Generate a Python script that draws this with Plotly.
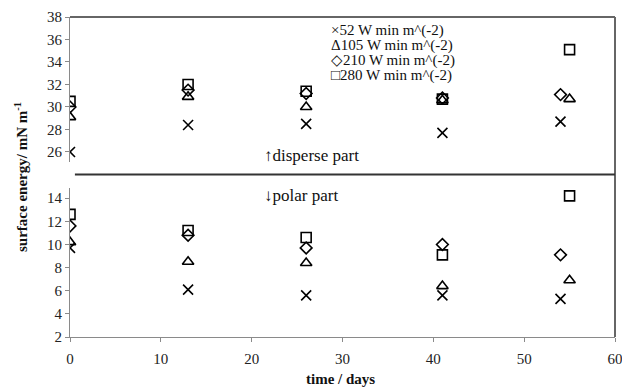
import plotly.graph_objects as go

series_names = ["52 W min m^(-2)", "105 W min m^(-2)", "210 W min m^(-2)", "280 W min m^(-2)"]
legend_glyphs = ["×", "Δ", "◇", "□"]
symbols = ["x-thin-open", "triangle-up-open", "diamond-open", "square-open"]

days = {
    "52 W min m^(-2)": [0, 13, 26, 41, 54],
    "105 W min m^(-2)": [0, 13, 26, 41, 55],
    "210 W min m^(-2)": [0, 13, 26, 41, 54],
    "280 W min m^(-2)": [0, 13, 26, 41, 55],
}
disperse = {
    "52 W min m^(-2)": [26.0, 28.4, 28.5, 27.7, 28.7],
    "105 W min m^(-2)": [29.1, 30.9, 30.0, 30.6, 30.7],
    "210 W min m^(-2)": [30.0, 31.5, 31.2, 30.8, 31.1],
    "280 W min m^(-2)": [30.5, 32.0, 31.4, 30.7, 35.1],
}
polar = {
    "52 W min m^(-2)": [9.7, 6.1, 5.6, 5.6, 5.3],
    "105 W min m^(-2)": [10.2, 8.5, 8.4, 6.4, 6.9],
    "210 W min m^(-2)": [11.6, 10.8, 9.7, 10.0, 9.1],
    "280 W min m^(-2)": [12.6, 11.2, 10.6, 9.1, 14.2],
}
bottom_ticks = [2, 4, 6, 8, 10, 12, 14]
top_ticks = [26, 28, 30, 32, 34, 36, 38]
x_ticks = [0, 10, 20, 30, 40, 50, 60]

FONT = "Liberation Serif, Times New Roman, serif"
sizes = {"x-thin-open": 10, "triangle-up-open": 10, "diamond-open": 9, "square-open": 10}

fig = go.Figure()
for name, sym in zip(series_names, symbols):
    mk = dict(symbol=sym, size=sizes[sym], color="black", line=dict(color="black", width=1.6))
    fig.add_trace(go.Scatter(x=days[name], y=polar[name], mode="markers", marker=mk,
                             name=name, showlegend=False, xaxis="x", yaxis="y"))
    fig.add_trace(go.Scatter(x=days[name], y=disperse[name], mode="markers", marker=mk,
                             name=name, showlegend=False, xaxis="x2", yaxis="y2"))

axis_common = dict(showgrid=False, zeroline=False, showline=True, linecolor="#8a8a8a",
                   linewidth=1.2, ticks="outside", ticklen=4, tickcolor="#8a8a8a",
                   automargin=False,
                   tickfont=dict(family=FONT, size=15, color="#222"))

fig.update_layout(
    width=622, height=388,
    margin=dict(l=70, r=7, t=17, b=51, autoexpand=False),
    paper_bgcolor="white", plot_bgcolor="white",
    xaxis=dict(range=[0, 60], tickvals=x_ticks, anchor="y", ticklabeloverflow="allow",
               ticklabelstandoff=4, **axis_common),
    xaxis2=dict(range=[0, 60], matches="x", anchor="y2", visible=False),
    yaxis=dict(range=[2, 14.89], domain=[0, 0.466], tickvals=bottom_ticks, anchor="x", **axis_common),
    yaxis2=dict(range=[25.14, 38], domain=[0.548, 1], tickvals=top_ticks, anchor="x2", **axis_common),
)

shapes = [
    dict(type="line", xref="paper", yref="paper", x0=0, x1=1, y0=1, y1=1,
         line=dict(color="#666", width=2)),
    dict(type="line", xref="paper", yref="paper", x0=1, x1=1, y0=0, y1=1,
         line=dict(color="#666", width=2)),
    dict(type="line", xref="paper", yref="paper", x0=0.009, x1=1, y0=0.508, y1=0.508,
         line=dict(color="#333", width=2)),
]
fig.update_layout(shapes=shapes)

ann = []
leg_y = [31, 46, 60, 75]
for g, n, py in zip(legend_glyphs, series_names, leg_y):
    ann.append(dict(text=g + n, xref="paper", yref="paper", x=(329 - 70) / 545, y=(337 - py) / 320,
                    xanchor="left", yanchor="middle", showarrow=False,
                    font=dict(family=FONT, size=15, color="#111")))
ann.append(dict(text="↑disperse part", xref="paper", yref="paper", x=(262 - 70) / 545,
                y=(337 - 155) / 320, xanchor="left", yanchor="middle", showarrow=False,
                font=dict(family=FONT, size=17, color="#111")))
ann.append(dict(text="↓polar part", xref="paper", yref="paper", x=(262 - 70) / 545,
                y=(337 - 195) / 320, xanchor="left", yanchor="middle", showarrow=False,
                font=dict(family=FONT, size=17, color="#111")))
ann.append(dict(text="<b>surface energy/ mN m<sup>-1</sup></b>", xref="paper", yref="paper",
                x=(21 - 70) / 545, y=(337 - 177) / 320, xanchor="center", yanchor="middle",
                textangle=-90, showarrow=False, font=dict(family=FONT, size=15, color="#111")))
ann.append(dict(text="<b>time / days</b>", xref="paper", yref="paper",
                x=(340 - 70) / 545, y=(337 - 379) / 320, xanchor="center", yanchor="middle",
                showarrow=False, font=dict(family=FONT, size=15, color="#111")))
fig.update_layout(annotations=ann)

fig.write_html("out.html")
